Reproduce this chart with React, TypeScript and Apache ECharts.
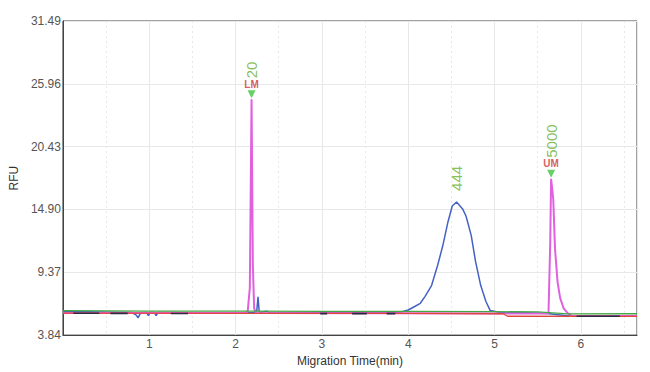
import React, { useEffect, useRef } from "react";
import * as echarts from "echarts";

// ---- data ----
const xMin = 0;
const xMax = 6.65;
const yMin = 3.84;
const yMax = 31.49;
const yStep = 5.53;

const blueTrace: [number, number][] = [
  [0, 5.95], [0.3, 5.9], [0.6, 5.85], [0.8, 5.82], [0.85, 5.6], [0.87, 5.35], [0.9, 5.8],
  [0.97, 5.82], [0.99, 5.55], [1.01, 5.82], [1.06, 5.82], [1.08, 5.55], [1.1, 5.82],
  [1.5, 5.8], [2.0, 5.8], [2.2, 5.8], [2.245, 5.95], [2.26, 7.2], [2.275, 5.75], [2.3, 5.85],
  [2.36, 5.95], [2.4, 5.78], [3.0, 5.8], [3.5, 5.8], [3.89, 5.82], [4.0, 6.05], [4.08, 6.38],
  [4.14, 6.64], [4.195, 7.25], [4.27, 8.2], [4.34, 9.97], [4.4, 11.7], [4.46, 13.8],
  [4.51, 15.2], [4.56, 15.56], [4.63, 14.95], [4.67, 14.3], [4.73, 12.6], [4.78, 10.3],
  [4.84, 8.2], [4.9, 6.8], [4.95, 6.0], [5.05, 5.85], [5.3, 5.82], [5.6, 5.75], [5.9, 5.5],
  [6.65, 5.5],
];

const pinkTrace: [number, number][] = [
  [0, 5.78], [2.1, 5.78], [2.14, 5.9], [2.165, 8], [2.185, 24.6], [2.2, 10], [2.215, 6.2],
  [2.24, 5.78], [5.6, 5.74], [5.625, 5.8], [5.645, 12], [5.655, 17.6], [5.68, 15.8],
  [5.7, 11.45], [5.73, 8.5], [5.76, 7.1], [5.8, 6.2], [5.85, 5.75], [5.9, 5.52], [6.65, 5.52],
];

const greenTrace: [number, number][] = [
  [0, 6.0], [1.0, 5.95], [2.0, 5.95], [3.0, 5.92], [4.0, 5.92], [5.0, 5.9], [5.5, 5.88],
  [5.85, 5.7], [6.65, 5.72],
];

const redTrace: [number, number][] = [
  [0, 5.78], [2, 5.76], [4, 5.75], [5.1, 5.72], [5.15, 5.5], [6.65, 5.48],
];

const darkTrace: ([number, number] | [number, null])[] = [
  [0.12, 5.76], [0.42, 5.76], [0.43, null], [0.55, 5.75], [0.75, 5.75], [0.76, null],
  [1.25, 5.74], [1.45, 5.74], [1.46, null], [2.98, 5.73], [3.06, 5.73], [3.07, null],
  [3.35, 5.73], [3.52, 5.73], [3.53, null], [3.75, 5.73], [3.85, 5.73], [3.86, null],
  [5.95, 5.5], [6.45, 5.5],
];

const peakX = [2.185, 4.56, 5.655];
const peakY = [24.6, 15.56, 17.6];
const peakSizes = ["20", "444", "5000"];
const peakTags = ["LM", "", "UM"];

const FONT = "'Liberation Sans', Arial, sans-serif";

export default function App() {
  const ref = useRef<HTMLDivElement>(null);

  useEffect(() => {
    if (!ref.current) return;
    const chart = echarts.init(ref.current, undefined, { renderer: "svg" });

    const tagged = peakX
      .map((x, i) => ({ x, y: peakY[i], tag: peakTags[i] }))
      .filter((p) => p.tag !== "");

    const lineBase = (name: string, data: any[], color: string, width: number) => ({
      name,
      type: "line",
      data,
      xAxisIndex: 0,
      yAxisIndex: 0,
      showSymbol: false,
      symbol: "none",
      connectNulls: false,
      lineStyle: { color, width },
      itemStyle: { color },
      z: 2,
    });

    const option: any = {
      animation: false,
      backgroundColor: "#ffffff",
      textStyle: { fontFamily: FONT },
      grid: {
        left: 51,
        right: 13,
        top: 21,
        bottom: 35,
        show: true,
        borderColor: "#444",
        borderWidth: 1,
        backgroundColor: "transparent",
      },
      xAxis: [
        {
          type: "value",
          min: xMin,
          max: xMax,
          interval: 1,
          name: "Migration Time(min)",
          nameLocation: "middle",
          nameGap: 14,
          nameTextStyle: { color: "#333", fontSize: 12, fontFamily: FONT },
          axisLine: { show: true, lineStyle: { color: "#444" } },
          axisTick: { show: false },
          axisLabel: {
            color: "#555",
            fontSize: 12,
            margin: 3,
            fontFamily: FONT,
            formatter: (v: number) => (v > 0 && Number.isInteger(v) ? String(v) : ""),
          },
          splitLine: { show: true, lineStyle: { color: "#e8e8e8", width: 1 } },
        },
        {
          type: "value",
          min: xMin,
          max: xMax,
          interval: 0.5,
          position: "bottom",
          axisLine: { show: false },
          axisTick: { show: false },
          axisLabel: { show: false },
          splitLine: { show: true, lineStyle: { color: "#e8e8e8", width: 1, type: [2, 3] } },
        },
      ],
      yAxis: [
        { type: "value", min: yMin, max: yMax, show: false },
        {
          type: "value",
          min: 0,
          max: Math.round((yMax - yMin) * 100),
          interval: Math.round(yStep * 100),
          position: "left",
          name: "RFU",
          nameLocation: "middle",
          nameGap: 30,
          nameTextStyle: { color: "#333", fontSize: 12, fontFamily: FONT },
          axisLine: { show: true, lineStyle: { color: "#444" } },
          axisTick: { show: false },
          axisLabel: {
            color: "#555",
            fontSize: 12,
            margin: 2,
            fontFamily: FONT,
            verticalAlign: "middle",
            padding: [0, 0, 8, 0],
            formatter: (v: number) => ((v + Math.round(yMin * 100)) / 100).toFixed(2),
          },
          splitLine: { show: true, lineStyle: { color: "#e8e8e8", width: 1 } },
        },
      ],
      series: [
        lineBase("blue", blueTrace, "#4462c4", 1.5),
        lineBase("pink", pinkTrace, "#e060e0", 2),
        lineBase("red", redTrace, "#e0473c", 1.3),
        lineBase("green", greenTrace, "#43a843", 1.3),
        lineBase("dark", darkTrace, "#2b2b3d", 1.6),
        {
          name: "arrows",
          type: "scatter",
          xAxisIndex: 0,
          yAxisIndex: 0,
          symbol: "triangle",
          symbolRotate: 180,
          symbolSize: [8, 8],
          symbolOffset: [0, -5],
          itemStyle: { color: "#3ec43e" },
          data: tagged.map((p) => [p.x, p.y]),
          z: 5,
        },
        {
          name: "tags",
          type: "scatter",
          xAxisIndex: 0,
          yAxisIndex: 0,
          symbolSize: 0.1,
          itemStyle: { color: "transparent" },
          data: tagged.map((p) => ({ value: [p.x, p.y], tag: p.tag })),
          label: {
            show: true,
            position: "inside",
            offset: [0, -15],
            align: "center",
            verticalAlign: "middle",
            color: "#cc3333",
            fontSize: 10,
            fontWeight: "bold",
            fontFamily: FONT,
            formatter: (p: any) => p.data.tag,
          },
          z: 6,
        },
        {
          name: "sizes",
          type: "scatter",
          xAxisIndex: 0,
          yAxisIndex: 0,
          symbolSize: 0.1,
          itemStyle: { color: "transparent" },
          data: peakX.map((x, i) => ({
            value: [x, peakY[i]],
            size: peakSizes[i],
            label: { offset: [peakTags[i] ? 21 : 11, 0] },
          })),
          label: {
            show: true,
            position: "inside",
            rotate: 90,
            align: "left",
            verticalAlign: "middle",
            color: "#66b032",
            fontSize: 15,
            fontFamily: FONT,
            formatter: (p: any) => p.data.size,
          },
          z: 6,
        },
      ],
    };

    chart.setOption(option);
    return () => chart.dispose();
  }, []);

  return (
    <div
      ref={ref}
      style={{ position: "fixed", left: 0, top: 0, width: 650, height: 372, background: "#fff" }}
    />
  );
}
